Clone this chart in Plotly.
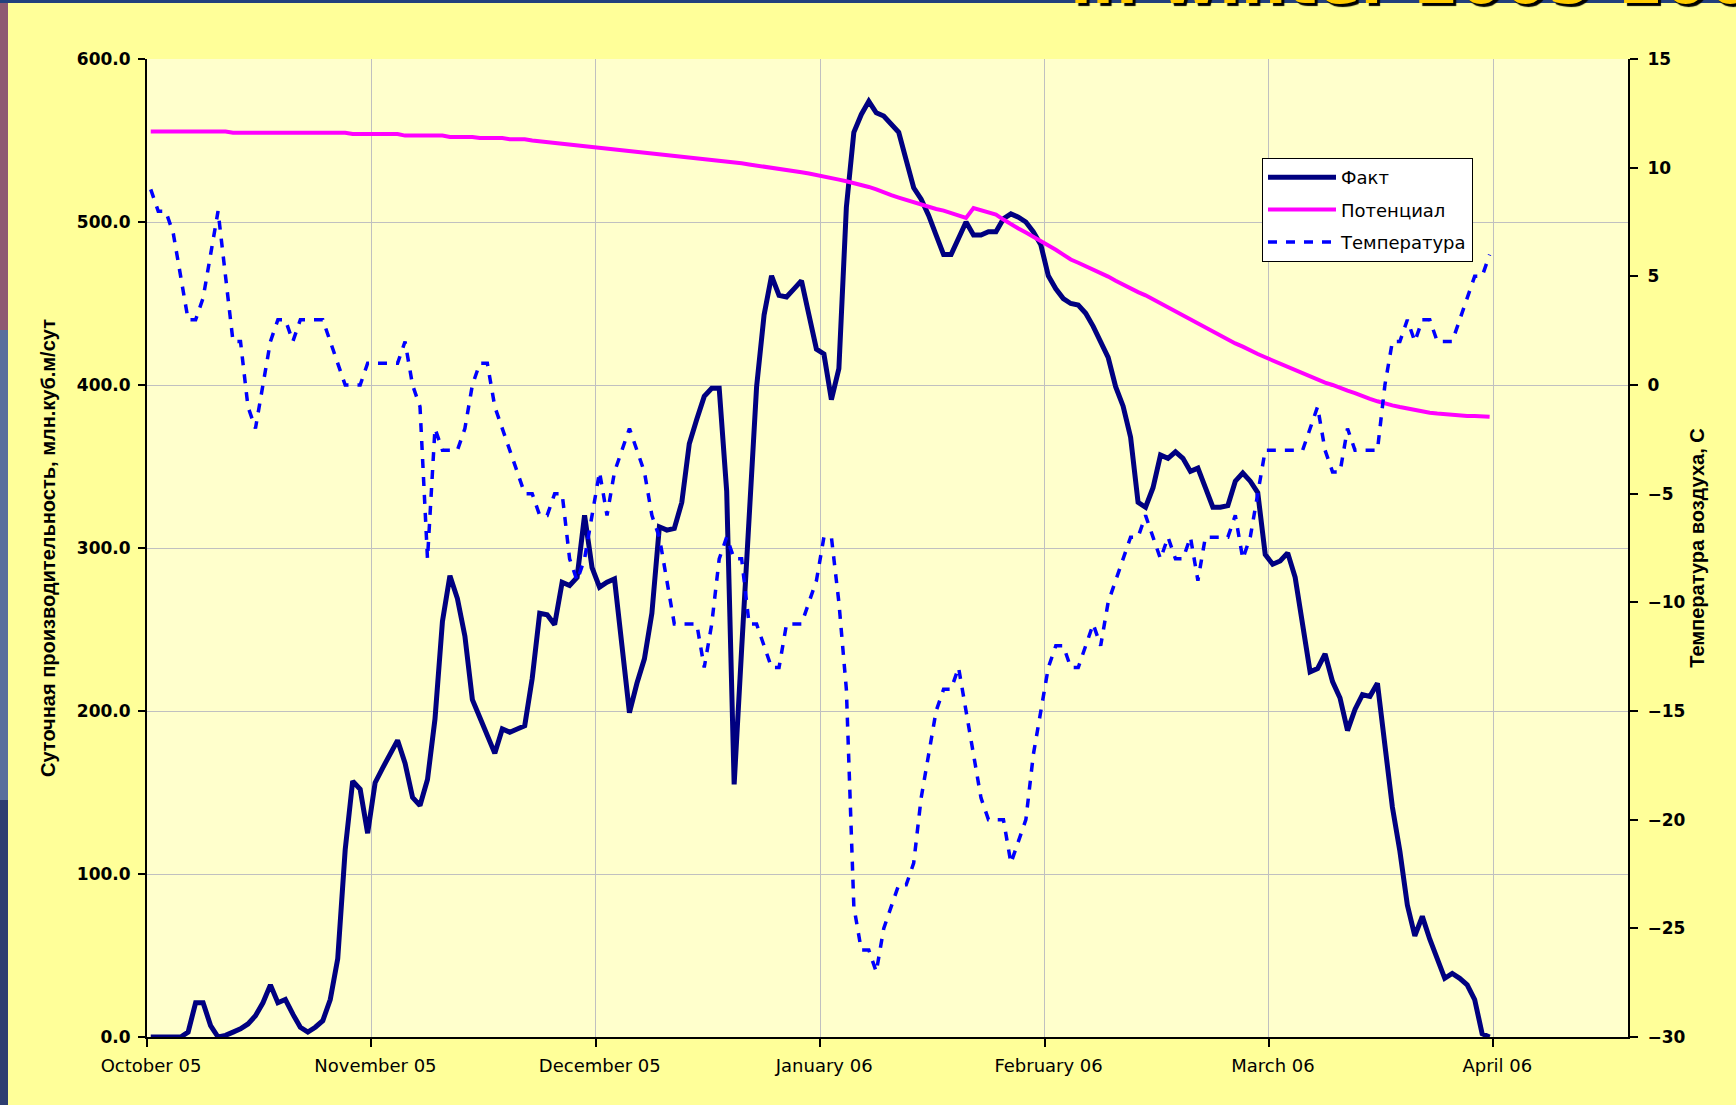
import plotly.graph_objects as go

# ---------------- data ----------------
month_labels = ["October 05", "November 05", "December 05", "January 06",
                "February 06", "March 06", "April 06"]
month_ticks = [0, 30, 60, 90, 120, 150, 180]
n_categories = 198

fact = [0, 0, 0, 0, 0, 3, 21, 21, 7, 0,
        1, 3, 5, 8, 13, 21, 32, 21, 23, 14,
        6, 3, 6, 10, 23, 48, 115, 157, 152, 125,
        156, 165, 174, 182, 168, 147, 142, 158, 195, 255,
        283, 269, 246, 207, 196, 184, 174, 189, 187, 189,
        191, 220, 260, 259, 253, 279, 277, 282, 320, 288,
        276, 279, 281, 240, 199, 217, 232, 260, 313, 311,
        312, 328, 364, 379, 393, 398, 398, 335, 155, 238,
        318, 399, 443, 467, 455, 454, 459, 464, 443, 422,
        419, 391, 410, 509, 555, 566, 574, 567, 565, 560,
        555, 538, 521, 514, 504, 492, 480, 480, 490, 500,
        492, 492, 494, 494, 502, 505, 503, 500, 494, 486,
        467, 459, 453, 450, 449, 444, 436, 427, 417, 399,
        387, 368, 328, 325, 337, 357, 355, 359, 355, 347,
        349, 337, 325, 325, 326, 341, 346, 341, 334, 296,
        290, 292, 297, 282, 255, 224, 226, 235, 218, 208,
        188, 201, 210, 209, 217, 180, 141, 114, 81, 62,
        74, 60, 48, 36, 39, 36, 32, 23, 2, 0]

potential = [555.5, 555.5, 555.5, 555.5, 555.5, 555.5, 555.5, 555.5, 555.5, 555.5,
             555.5, 554.8, 554.8, 554.8, 554.8, 554.8, 554.8, 554.8, 554.8, 554.8,
             554.8, 554.8, 554.8, 554.8, 554.8, 554.8, 554.8, 554.0, 554.0, 554.0,
             554.0, 554.0, 554.0, 554.0, 553.0, 553.0, 553.0, 553.0, 553.0, 553.0,
             552.2, 552.2, 552.2, 552.2, 551.5, 551.5, 551.5, 551.5, 550.8, 550.8,
             550.8, 550.0, 549.5, 549.2, 548.8, 548.3, 547.8, 547.3, 546.8, 546.3,
             546.0, 545.5, 545.0, 544.5, 544.0, 543.5, 543.0, 542.5, 542.0, 541.5,
             541.0, 540.5, 540.0, 539.5, 539.0, 538.5, 538.0, 537.3, 536.7, 536.0,
             535.3, 534.7, 534.0, 533.3, 532.7, 532.0, 531.3, 530.5, 529.8, 529.0,
             528.0, 527.0, 526.0, 525.0, 524.0, 523.0, 521.5, 520.0, 518.0, 516.5,
             515.0, 513.5, 512.0, 510.5, 509.5, 508.0, 507.0, 505.5, 504.0, 502.5,
             508.5, 507.0, 505.5, 504.5, 501.5, 498.5, 496.0, 493.5, 491.0, 488.5,
             486.0, 483.0, 480.0, 477.0, 475.0, 473.0, 471.0, 469.0, 466.5, 464.0,
             461.5, 459.0, 457.0, 455.0, 452.5, 450.0, 448.0, 445.5, 443.0, 440.5,
             438.0, 435.5, 433.0, 430.5, 428.0, 425.5, 423.5, 421.0, 419.0, 417.0,
             415.0, 413.0, 411.0, 409.0, 407.0, 405.0, 403.0, 401.5, 400.0, 398.0,
             396.5, 395.0, 393.0, 391.5, 390.0, 388.5, 387.5, 386.5, 385.5, 384.5,
             383.5, 383.0, 382.5, 382.0, 382.0, 381.5, 381.0, 381.0, 381.0, 380.5]

temperature = [9, 8, 8, 7, 5, 3, 3, 4, 6, 8,
               5, 2, 2, -1, -2, 0, 2, 3, 3, 2,
               3, 3, 3, 3, 2, 1, 0, 0, 0, 1,
               1, 1, 1, 1, 2, 0, -1, -8, -2, -3,
               -3, -3, -2, 0, 1, 1, -1, -2, -3, -4,
               -5, -5, -6, -6, -5, -5, -8, -9, -8, -6,
               -4, -6, -4, -3, -2, -3, -4, -6, -7, -9,
               -11, -11, -11, -11, -13, -11, -8, -7, -8, -8,
               -11, -11, -12, -13, -13, -11, -11, -11, -10, -9,
               -7, -7, -10, -14, -24, -26, -26, -27, -25, -24,
               -23, -23, -22, -19, -17, -15, -14, -14, -13, -15,
               -17, -19, -20, -20, -20, -22, -21, -20, -17, -15,
               -13, -12, -12, -13, -13, -12, -11, -12, -10, -9,
               -8, -7, -7, -6, -7, -8, -7, -8, -8, -7,
               -9, -7, -7, -7, -7, -6, -8, -7, -5, -3,
               -3, -3, -3, -3, -3, -2, -1, -3, -4, -4,
               -2, -3, -3, -3, -3, 0, 2, 2, 3, 2,
               3, 3, 2, 2, 2, 3, 4, 5, 5, 6]

# Excel category axis: points sit in the middle of each category slot
cat_pos = [i + 0.5 for i in range(len(fact))]

# ---------------- layout geometry ----------------
W, H = 1736, 1105
ML, MR, MT, MB = 147, 108, 59, 68
PW, PH = W - ML - MR, H - MT - MB


def px_x(px):
    return (px - ML) / PW


def px_y(py):
    return (H - MB - py) / PH


fig = go.Figure()
fig.add_trace(go.Scatter(x=cat_pos, y=fact, name="Факт", mode="lines",
                         legendgroup="g1",
                         line=dict(color="#000080", width=5)))
fig.add_trace(go.Scatter(x=cat_pos, y=potential, name="Потенциал", mode="lines",
                         legendgroup="g2",
                         line=dict(color="#FF00FF", width=4)))
fig.add_trace(go.Scatter(x=cat_pos, y=temperature, name="Температура", mode="lines",
                         legendgroup="g3", yaxis="y2",
                         line=dict(color="#0000FF", width=3.5, dash="9px,9px")))

axis_common = dict(showline=True, linecolor="#000000", linewidth=2,
                   ticks="outside", tickcolor="#000000", tickwidth=1.5,
                   zeroline=False)

fig.update_layout(
    width=W, height=H, autosize=False,
    margin=dict(l=ML, r=MR, t=MT, b=MB, pad=0),
    paper_bgcolor="#FFFF99",
    plot_bgcolor="#FFFFCC",
    font=dict(family="DejaVu Sans", color="#000000"),
    xaxis=dict(range=[0, n_categories], tickmode="array",
               tickvals=month_ticks, ticktext=month_labels,
               showgrid=True, gridcolor="#C0C0C0", gridwidth=1,
               ticklen=8, ticklabelshift=4, ticklabelstandoff=3,
               tickfont=dict(family="DejaVu Sans", size=18, color="#000000"),
               **axis_common),
    yaxis=dict(range=[0, 600], dtick=100, tickformat=".1f",
               showgrid=True, gridcolor="#C0C0C0", gridwidth=1,
               ticklen=7, ticklabelstandoff=4,
               tickfont=dict(family="DejaVu Sans", size=17, weight="bold",
                             color="#000000"),
               title=dict(text="Суточная производительность, млн.куб.м/сут",
                          font=dict(family="Liberation Sans", size=20,
                                    weight="bold", color="#000000"),
                          standoff=16),
               **axis_common),
    yaxis2=dict(range=[-30, 15], dtick=5, tickformat="d", overlaying="y",
                side="right", showgrid=False,
                ticklen=8, ticklabelstandoff=6,
                tickfont=dict(family="DejaVu Sans", size=17, weight="bold",
                              color="#000000"),
                title=dict(text="Температура воздуха, С",
                           font=dict(family="Liberation Sans", size=20,
                                     weight="bold", color="#000000"),
                           standoff=6),
                **axis_common),
    legend=dict(x=px_x(1262), y=px_y(158), xanchor="left", yanchor="top",
                bgcolor="#FFFFFF", bordercolor="#000000", borderwidth=1,
                font=dict(family="DejaVu Sans", size=18, color="#000000"),
                tracegroupgap=6, itemwidth=68, traceorder="grouped"),
    showlegend=True,
)

# slide background visible at the left edge and top edge
shapes = [
    dict(type="rect", xref="paper", yref="paper", layer="below",
         x0=px_x(0), x1=px_x(8), y0=px_y(0), y1=px_y(330),
         fillcolor="#8E5A72", line=dict(width=0)),
    dict(type="rect", xref="paper", yref="paper", layer="below",
         x0=px_x(0), x1=px_x(8), y0=px_y(330), y1=px_y(800),
         fillcolor="#5A6E9C", line=dict(width=0)),
    dict(type="rect", xref="paper", yref="paper", layer="below",
         x0=px_x(0), x1=px_x(8), y0=px_y(800), y1=px_y(H),
         fillcolor="#2E3E70", line=dict(width=0)),
    dict(type="rect", xref="paper", yref="paper", layer="below",
         x0=px_x(0), x1=px_x(W), y0=px_y(0), y1=px_y(3),
         fillcolor="#22407E", line=dict(width=0)),
]
fig.update_layout(shapes=shapes)

# slide title, mostly cut off by the top edge (as in the source slide)
fig.add_annotation(text="in winter 2005-2006", xref="paper", yref="paper",
                   x=px_x(1068), y=px_y(-19), xanchor="left", yanchor="middle",
                   showarrow=False,
                   font=dict(family="DejaVu Sans", size=64, weight="bold",
                             color="#FFCC00", shadow="3px 3px 1px #000000"))

fig.write_html("out.html")
